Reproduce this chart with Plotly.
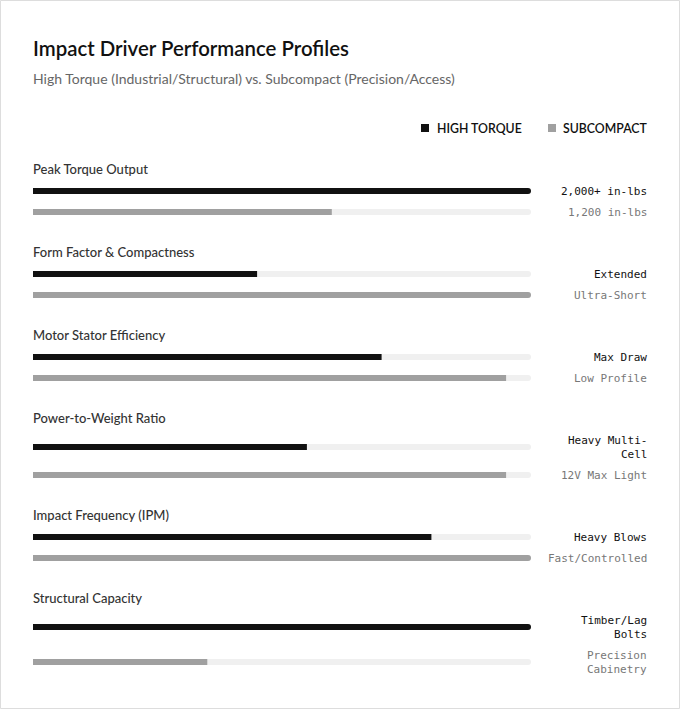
import textwrap
import plotly.graph_objects as go

# ---------------- data ----------------
categories = [
    "Peak Torque Output",
    "Form Factor & Compactness",
    "Motor Stator Efficiency",
    "Power-to-Weight Ratio",
    "Impact Frequency (IPM)",
    "Structural Capacity",
]
high_torque = [100, 45, 70, 55, 80, 100]
subcompact = [60, 100, 95, 95, 100, 35]
high_torque_labels = ["2,000+ in-lbs", "Extended", "Max Draw", "Heavy Multi-Cell",
                      "Heavy Blows", "Timber/Lag Bolts"]
subcompact_labels = ["1,200 in-lbs", "Ultra-Short", "Low Profile", "12V Max Light",
                     "Fast/Controlled", "Precision Cabinetry"]
series_names = ["HIGH TORQUE", "SUBCOMPACT"]

# ---------------- style ----------------
W, H = 680, 709
DARK = "#111111"
GRAY = "#a0a0a0"
TRACK = "#f0f0f0"
SANS = "Lato, Noto Sans, sans-serif"
MONO = "DejaVu Sans Mono, monospace"
LEFT, BAR_RIGHT, TEXT_RIGHT = 33, 531, 647
PAD = 2  # annotation inner padding compensation
BAR_H = 6
LINE = 14


def wrap(s):
    return textwrap.wrap(s, width=15)


# layout positions of rows (pixel units on the y axis)
ht_wrapped = [wrap(s) for s in high_torque_labels]
sc_wrapped = [wrap(s) for s in subcompact_labels]
label_y, ht_y, sc_y = [], [], []
g = 169
for a, b in zip(ht_wrapped, sc_wrapped):
    n1, n2 = len(a), len(b)
    label_y.append(g)
    y1 = g + 22 + (n1 - 1) * LINE / 2
    y2 = y1 + 21 + (n1 - 1) * LINE / 2 + (n2 - 1) * LINE / 2
    ht_y.append(y1)
    sc_y.append(y2)
    g += 83 + (n1 - 1) * LINE + (n2 - 1) * LINE

fig = go.Figure()


def rounded_bar(ys, vals, color):
    # full bar rounded at its end + a half bar drawn backwards to round the start
    fig.add_trace(go.Bar(
        y=ys, x=vals, orientation="h", width=BAR_H,
        marker=dict(color=color, cornerradius=BAR_H / 2, line_width=0),
        hoverinfo="skip", showlegend=False,
    ))
    half = [v / 2 for v in vals]
    fig.add_trace(go.Bar(
        y=ys, x=[-h for h in half], base=half, orientation="h", width=BAR_H,
        marker=dict(color=color, cornerradius=BAR_H / 2, line_width=0),
        hoverinfo="skip", showlegend=False,
    ))


all_y = ht_y + sc_y
rounded_bar(all_y, [100] * len(all_y), TRACK)
rounded_bar(ht_y, high_torque, DARK)
rounded_bar(sc_y, subcompact, GRAY)

ann = []
px = lambda x: x / W


def left_text(x, y, text, font):
    ann.append(dict(x=px(x - PAD), y=y, xref="paper", yref="y", xanchor="left",
                    yanchor="middle", align="left", text=text, showarrow=False, font=font))


def right_text(x, y, text, font):
    ann.append(dict(x=px(x + PAD), y=y, xref="paper", yref="y", xanchor="right",
                    yanchor="middle", align="right", text=text, showarrow=False, font=font))


left_text(LEFT, 48, "Impact Driver Performance Profiles",
          dict(family=SANS, size=20.4, color=DARK, weight=600))
left_text(LEFT, 78, "High Torque (Industrial/Structural) vs. Subcompact (Precision/Access)",
          dict(family=SANS, size=14, color="#666666"))
right_text(TEXT_RIGHT, 128, series_names[1], dict(family=SANS, size=12.3, color=DARK, weight=600))
right_text(522, 128, series_names[0], dict(family=SANS, size=12.3, color=DARK, weight=600))

for i, cat in enumerate(categories):
    left_text(LEFT, label_y[i], cat, dict(family=SANS, size=13, color="#333333", weight=500))
    right_text(TEXT_RIGHT, ht_y[i], "<br>".join(ht_wrapped[i]),
               dict(family=MONO, size=11, color=DARK))
    right_text(TEXT_RIGHT, sc_y[i], "<br>".join(sc_wrapped[i]),
               dict(family=MONO, size=11, color="#777777"))

shapes = [
    dict(type="rect", xref="paper", yref="paper", x0=0.5 / W, x1=(W - 0.5) / W,
         y0=0.5 / H, y1=(H - 0.5) / H, line=dict(color="#dddddd", width=1)),
    dict(type="rect", xref="paper", yref="y", x0=px(421), x1=px(429), y0=124, y1=132,
         line_width=0, fillcolor=DARK),
    dict(type="rect", xref="paper", yref="y", x0=px(548), x1=px(556), y0=124, y1=132,
         line_width=0, fillcolor=GRAY),
]

fig.update_layout(
    width=W, height=H, margin=dict(l=0, r=0, t=0, b=0),
    paper_bgcolor="white", plot_bgcolor="white",
    barmode="overlay", showlegend=False,
    xaxis=dict(domain=[LEFT / W, BAR_RIGHT / W], range=[0, 100], visible=False, fixedrange=True),
    yaxis=dict(domain=[0, 1], range=[H, 0], visible=False, fixedrange=True),
    annotations=ann, shapes=shapes,
)
fig.write_html("out.html")
